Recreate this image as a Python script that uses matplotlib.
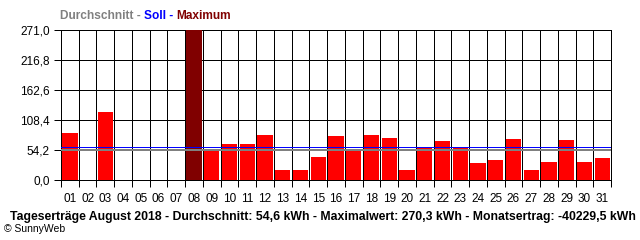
import numpy as np
import matplotlib.pyplot as plt

# Tageserträge August 2018 (kWh)
tage = ['%02d' % d for d in range(1, 32)]
ertrag = [85.5, 0, 123.5, 0, 0, 0, 0, 270.3, 53.0, 65.6, 65.6, 81.9, 18.7, 18.7,
          42.1, 80.0, 53.0, 82.0, 76.4, 18.7, 59.6, 71.0, 59.6, 31.3, 36.7, 74.6,
          18.7, 33.1, 72.8, 33.1, 40.3]
durchschnitt = 54.6
soll = 59.0
y_ticks = [0.0, 54.2, 108.4, 162.6, 216.8, 271.0]

titel_teile = [('Durchschnitt - ', '#808080'), ('Soll - ', '#0000ff'), ('Maximum', '#800000')]
fusszeile = ('Tageserträge August 2018 - Durchschnitt: 54,6 kWh - Maximalwert: 270,3 kWh'
             ' - Monatsertrag: -40229,5 kWh')

plt.rcParams['font.family'] = ['Liberation Sans Narrow', 'Liberation Sans', 'DejaVu Sans']
px = 0.72  # 1 Pixel in Punkt bei 100 dpi

fig = plt.figure(figsize=(6.4, 2.4), dpi=100)
ax = fig.add_axes([61 / 640, 1 - 180 / 240, 550 / 640, 150 / 240])

x = np.arange(len(tage)) + 0.5
i_max = int(np.argmax(ertrag))
farben = ['#800000' if i == i_max else '#ff0000' for i in range(len(tage))]
ax.bar(x, ertrag, width=0.86, color=farben, zorder=3, linewidth=0)

ax.axhline(durchschnitt, color='#808080', lw=2 * px, zorder=4)
ax.axhline(soll, color='#0000ff', lw=1 * px, zorder=4)

ax.set_xlim(0, len(tage))
ax.set_ylim(0, y_ticks[-1])

ax.set_xticks(x)
ax.set_xticklabels(tage)
ax.set_xticks(np.arange(len(tage) + 1), minor=True)
ax.tick_params(axis='x', which='major', length=0, pad=9, labelsize=8.5)
ax.tick_params(axis='x', which='minor', length=5, width=px, direction='out')

ax.set_yticks(y_ticks)
ax.set_yticklabels([('%.1f' % v).replace('.', ',') for v in y_ticks])
ax.tick_params(axis='y', length=5, width=px, pad=3, labelsize=8.5)

ax.grid(True, which='minor', axis='x', color='black', lw=px, zorder=1)
ax.grid(True, which='major', axis='y', color='black', lw=px, zorder=1)
for s in ax.spines.values():
    s.set_linewidth(px)

# Kopfzeile mit farbigen Teilen
t = fig.text(60 / 640, 1 - 16 / 240, titel_teile[0][0], color=titel_teile[0][1],
             fontsize=8.6, fontweight='bold', va='center', ha='left')
for text, farbe in titel_teile[1:]:
    t = ax.annotate(text, xy=(1, 0), xycoords=t, va='bottom', ha='left',
                    color=farbe, fontsize=8.6, fontweight='bold', annotation_clip=False)

fig.text(10 / 640, 1 - 217 / 240, fusszeile, fontsize=8.8, fontweight='bold',
         va='center', ha='left')
fig.text(4 / 640, 1 - 229 / 240, '© SunnyWeb', fontsize=7.5, va='center', ha='left')

fig.savefig('out.png', dpi=100)
